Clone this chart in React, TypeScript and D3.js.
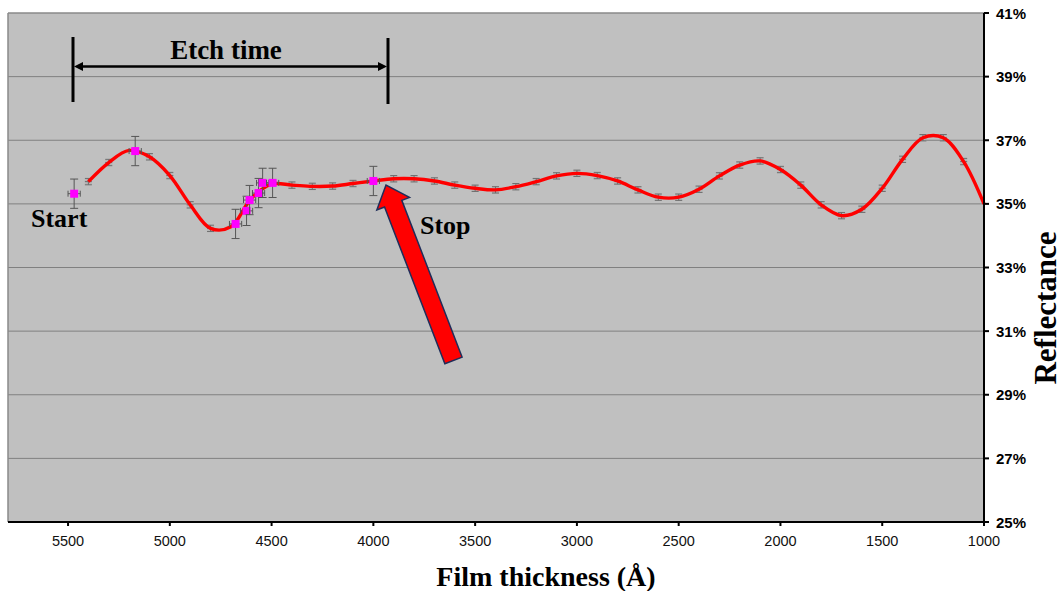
import React from "react";
import * as d3 from "d3";

// Model curve / gray-error-bar series (thickness Å, reflectance %)
const modelThickness = [5400, 5300, 5200, 5100, 5000, 4900, 4800, 4700, 4600, 4500, 4400, 4300, 4200, 4100, 4000, 3900, 3800, 3700, 3600, 3500, 3400, 3300, 3200, 3100, 3000, 2900, 2800, 2700, 2600, 2500, 2400, 2300, 2200, 2100, 2000, 1900, 1800, 1700, 1600, 1500, 1400, 1300, 1200, 1100, 1000];
const modelReflectance = [35.7, 36.3, 36.68, 36.48, 35.89, 34.97, 34.23, 34.28, 35.17, 35.62, 35.59, 35.55, 35.56, 35.64, 35.72, 35.79, 35.79, 35.72, 35.59, 35.49, 35.44, 35.54, 35.7, 35.88, 35.96, 35.89, 35.72, 35.44, 35.21, 35.21, 35.46, 35.88, 36.22, 36.35, 36.08, 35.59, 34.97, 34.63, 34.83, 35.49, 36.4, 37.08, 37.08, 36.33, 35.0];
const modelError = 0.1;

// Measured points (magenta)
const measuredThickness = [5470, 5170, 4677, 4623, 4608, 4564, 4544, 4495, 4000];
const measuredReflectance = [35.32, 36.66, 34.37, 34.78, 35.12, 35.34, 35.66, 35.66, 35.72];
const measuredError = 0.46;
const measuredXError = 30;

const xTicks = [5500, 5000, 4500, 4000, 3500, 3000, 2500, 2000, 1500, 1000];
const yTicks = [25, 27, 29, 31, 33, 35, 37, 39, 41];

export default function App() {
  const W = 1063, H = 591;
  const left = 8, right = 984, top = 13, bottom = 522;
  const x = d3.scaleLinear().domain([5795, 1000]).range([left, right]);
  const y = d3.scaleLinear().domain([25, 41]).range([bottom, top]);

  const model = modelThickness.map((t, i) => ({ t, v: modelReflectance[i] }));
  const measured = measuredThickness.map((t, i) => ({ t, v: measuredReflectance[i] }));

  const line = d3
    .line<{ t: number; v: number }>()
    .x((d) => x(d.t))
    .y((d) => y(d.v))
    .curve(d3.curveCatmullRom.alpha(0.5));

  const grayBars = model.filter(
    (d) => d.t !== 1000 && !measured.some((m) => Math.abs(m.t - d.t) < 40)
  );

  // Red arrow geometry
  const tail = { x: 453.5, y: 360.5 };
  const tip = { x: 386, y: 185 };
  const dx = tip.x - tail.x, dy = tip.y - tail.y;
  const len = Math.hypot(dx, dy);
  const ux = dx / len, uy = dy / len;
  const px = -uy, py = ux;
  const shaftW = 18.5 / 2, headW = 35 / 2, headL = 20;
  const base = { x: tip.x - ux * headL, y: tip.y - uy * headL };
  const arrowPts = [
    [tail.x + px * shaftW, tail.y + py * shaftW],
    [base.x + px * shaftW, base.y + py * shaftW],
    [base.x + px * headW, base.y + py * headW],
    [tip.x, tip.y],
    [base.x - px * headW, base.y - py * headW],
    [base.x - px * shaftW, base.y - py * shaftW],
    [tail.x - px * shaftW, tail.y - py * shaftW],
  ]
    .map((p) => p.join(","))
    .join(" ");

  const serif = "'Liberation Serif', 'Times New Roman', serif";
  const sans = "'Liberation Sans', Arial, sans-serif";

  return (
    <svg
      width={W}
      height={H}
      style={{ position: "absolute", left: 0, top: 0, background: "#fff" }}
    >
      <rect x={left} y={top} width={right - left} height={bottom - top} fill="#C0C0C0" />
      {yTicks.slice(1, -1).map((t) => (
        <line key={t} x1={left} x2={right} y1={y(t)} y2={y(t)} stroke="#808080" strokeWidth={1} />
      ))}
      {/* top and left border */}
      <line x1={left} x2={right} y1={top} y2={top} stroke="#8a8a8a" strokeWidth={1.5} />
      <line x1={left} x2={left} y1={top} y2={bottom} stroke="#8a8a8a" strokeWidth={1.5} />

      {/* gray error bars */}
      {grayBars.map((d) => {
        const cx = x(d.t), cy = y(d.v);
        const e = y(d.v - modelError) - cy;
        return (
          <g key={d.t} stroke="#6e6e6e" strokeWidth={1}>
            <rect x={cx - 3.5} y={cy - 3.5} width={7} height={7} fill="#b0b0b0" stroke="none" opacity={0.7} />
            <line x1={cx} x2={cx} y1={cy - e} y2={cy + e} />
            <line x1={cx - 3.5} x2={cx + 3.5} y1={cy - e} y2={cy - e} />
            <line x1={cx - 3.5} x2={cx + 3.5} y1={cy + e} y2={cy + e} />
            <line x1={cx - 3.5} x2={cx + 3.5} y1={cy} y2={cy} />
          </g>
        );
      })}

      {/* red model curve */}
      <path d={line(model) || ""} fill="none" stroke="#FF0000" strokeWidth={3.4} />

      {/* measured points with error bars */}
      {measured.map((d) => {
        const cx = x(d.t), cy = y(d.v);
        const e = y(d.v - measuredError) - cy;
        const ex = x(d.t - measuredXError) - cx;
        return (
          <g key={d.t} stroke="#555" strokeWidth={1}>
            <line x1={cx} x2={cx} y1={cy - e} y2={cy + e} />
            <line x1={cx - 4} x2={cx + 4} y1={cy - e} y2={cy - e} />
            <line x1={cx - 4} x2={cx + 4} y1={cy + e} y2={cy + e} />
            <line x1={cx - ex} x2={cx + ex} y1={cy} y2={cy} />
            <line x1={cx - ex} x2={cx - ex} y1={cy - 3} y2={cy + 3} />
            <line x1={cx + ex} x2={cx + ex} y1={cy - 3} y2={cy + 3} />
            <rect x={cx - 4} y={cy - 4} width={8} height={8} fill="#FF00FF" stroke="none" />
          </g>
        );
      })}

      {/* axes */}
      <line x1={left} x2={right + 1} y1={bottom} y2={bottom} stroke="#000" strokeWidth={2} />
      <line x1={right} x2={right} y1={top} y2={bottom + 1} stroke="#000" strokeWidth={2} />
      {xTicks.map((t) => (
        <g key={t}>
          <line x1={x(t)} x2={x(t)} y1={bottom} y2={bottom + 4} stroke="#000" strokeWidth={2} />
          <text x={x(t)} y={546} textAnchor="middle" fontFamily={sans} fontSize={14.5} fill="#111">
            {t}
          </text>
        </g>
      ))}
      {yTicks.map((t) => (
        <g key={t}>
          <line x1={right} x2={right + 5} y1={y(t)} y2={y(t)} stroke="#000" strokeWidth={2} />
          <text x={996} y={y(t) + 5.5} fontFamily={sans} fontSize={15} fontWeight="bold" fill="#000">
            {t}%
          </text>
        </g>
      ))}

      {/* axis titles */}
      <text x={546} y={586} textAnchor="middle" fontFamily={serif} fontSize={28} fontWeight="bold">
        Film thickness (Å)
      </text>
      <text
        transform="translate(1056,308) rotate(-90)"
        textAnchor="middle"
        fontFamily={serif}
        fontSize={31}
        fontWeight="bold"
      >
        Reflectance
      </text>

      {/* Etch time annotation */}
      <line x1={73} x2={73} y1={37} y2={102} stroke="#000" strokeWidth={3} />
      <line x1={388} x2={388} y1={38} y2={104} stroke="#000" strokeWidth={3} />
      <line x1={80} x2={381} y1={66.5} y2={66.5} stroke="#000" strokeWidth={2.5} />
      <polygon points="74,66.5 83,62 83,71" fill="#000" />
      <polygon points="387,66.5 378,62 378,71" fill="#000" />
      <text x={226} y={59} textAnchor="middle" fontFamily={serif} fontSize={27} fontWeight="bold">
        Etch time
      </text>

      <text x={31} y={227} fontFamily={serif} fontSize={26} fontWeight="bold">
        Start
      </text>
      <text x={420} y={234} fontFamily={serif} fontSize={26} fontWeight="bold">
        Stop
      </text>

      {/* red arrow */}
      <polygon points={arrowPts} fill="#FF0000" stroke="#1f2d5a" strokeWidth={1.5} strokeLinejoin="miter" />
    </svg>
  );
}
